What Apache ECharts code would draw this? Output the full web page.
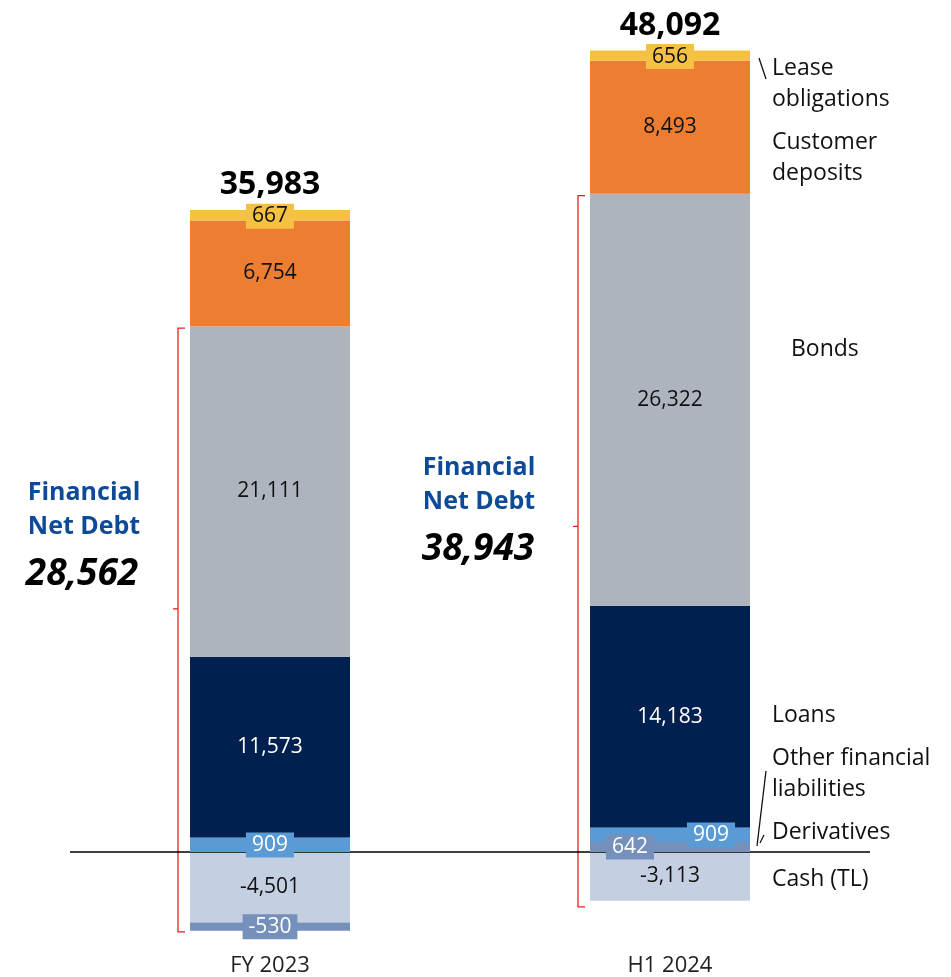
<!DOCTYPE html>
<html>
<head>
<meta charset="utf-8">
<script src="https://cdn.jsdelivr.net/npm/echarts@6/dist/echarts.min.js"></script>
<style>
html, body { margin: 0; padding: 0; background: #fff; }
#chart { width: 951px; height: 977px; }
</style>
</head>
<body>
<div id="chart"></div>
<script>
var periods = ['FY 2023', 'H1 2024'];
var cash = [-4501, -3113];
var otherFin = [-530, 642];
var derivatives = [909, 909];
var loans = [11573, 14183];
var bonds = [21111, 26322];
var deposits = [6754, 8493];
var leases = [667, 656];
var totals = [35983, 48092];
var netDebt = [28562, 38943];

var FONT = '"Open Sans", "DejaVu Sans", sans-serif';
function fmt(v) { return v.toLocaleString('en-US'); }

// label helpers
function plainLabel(color) {
    return { show: true, position: 'inside', color: color, fontFamily: FONT, fontSize: 21,
             formatter: function (p) { return fmt(p.value); } };
}
function boxLabel(color, bg, offsets) {
    return function (v, i) {
        return {
            value: v,
            label: { show: true, position: 'inside', color: color, backgroundColor: bg,
                     padding: [3, 6, 1, 6], fontFamily: FONT, fontSize: 21,
                     offset: offsets[i], formatter: fmt(v) }
        };
    };
}

var barW = 160;
function bar(name, data, color, label, z) {
    return { name: name, type: 'bar', stack: 'debt', barWidth: barW, data: data, z: z || 2,
             itemStyle: { color: color }, label: label, emphasis: { disabled: true } };
}

// positive stack top per period, for the total labels
var posTop = periods.map(function (_, i) {
    return [cash, otherFin, derivatives, loans, bonds, deposits, leases]
        .reduce(function (s, arr) { return s + Math.max(arr[i], 0); }, 0);
});

var series = [
    bar('Cash (TL)', cash, '#c5cfe2', plainLabel('#111')),
    bar('Other financial liabilities', otherFin.map(boxLabel('#fff', '#7590bb', [[0, 0], [-40, 0]])), '#7590bb', null, 4),
    bar('Derivatives', derivatives.map(boxLabel('#fff', '#5b9bd5', [[0, 0], [41, 0]])), '#5b9bd5', null, 4),
    bar('Loans', loans, '#002150', plainLabel('#fff')),
    bar('Bonds', bonds, '#adb4be', plainLabel('#111')),
    bar('Customer deposits', deposits, '#ed7d31', plainLabel('#111')),
    bar('Lease obligations', leases.map(boxLabel('#111', '#f4c142', [[0, 1], [0, 1]])), '#f4c142', null),
    {
        name: 'total', type: 'scatter', symbolSize: 0, data: posTop,
        itemStyle: { opacity: 1 },
        label: { show: true, position: 'top', distance: 9, color: '#000', fontFamily: FONT,
                 fontSize: 32, fontWeight: 'bold',
                 formatter: function (p) { return fmt(totals[p.dataIndex]); } }
    }
];
series[0].markLine = {
    silent: true, symbol: 'none', z: 3, label: { show: false },
    lineStyle: { color: '#000', width: 1.5, type: 'solid' },
    data: [{ yAxis: 0 }]
};

var chart = echarts.init(document.getElementById('chart'));
chart.setOption({
    animation: false,
    grid: { left: 70, right: 81, top: 38, bottom: 31 },
    xAxis: {
        type: 'category', data: periods,
        axisLine: { show: false, onZero: false }, axisTick: { show: false },
        axisLabel: { margin: 9, color: '#222', fontFamily: FONT, fontSize: 22 }
    },
    yAxis: { type: 'value', min: -6000, max: 52000, show: false, splitLine: { show: false } },
    series: series
});

// side texts
function txt(x, y, s, extra) {
    var style = { text: s, font: '23px ' + FONT, fill: '#111', verticalAlign: 'middle' };
    for (var k in extra) style[k] = extra[k];
    return { type: 'text', x: x, y: y, style: style, silent: true };
}
function line(x1, y1, x2, y2, color, w) {
    return { type: 'line', shape: { x1: x1, y1: y1, x2: x2, y2: y2 },
             style: { stroke: color || '#111', lineWidth: w || 1.3 }, silent: true };
}

var graphics = [
    txt(772, 68, 'Lease'), txt(772, 99, 'obligations'),
    txt(772, 142, 'Customer'), txt(772, 173, 'deposits'),
    txt(791, 349, 'Bonds'),
    txt(772, 715, 'Loans'),
    txt(772, 758, 'Other financial'), txt(772, 789, 'liabilities'),
    txt(772, 832, 'Derivatives'),
    txt(772, 879, 'Cash (TL)'),
    line(759, 58, 766, 79),
    line(766, 771, 757, 846),
    line(764, 835, 760, 843)
];

// financial net debt captions
var ndPos = [[84, 493, 82, 574], [479, 468, 478, 549]];
ndPos.forEach(function (p, i) {
    graphics.push(txt(p[0], p[1], 'Financial', { align: 'center', fill: '#0d4a97', font: 'bold 25px ' + FONT }));
    graphics.push(txt(p[0], p[1] + 34, 'Net Debt', { align: 'center', fill: '#0d4a97', font: 'bold 25px ' + FONT }));
    graphics.push(txt(p[2], p[3], fmt(netDebt[i]), { align: 'center', fill: '#000', font: 'italic bold 37px ' + FONT }));
});

// red brackets spanning financial net debt (bonds top to bottom of negatives)
periods.forEach(function (_, i) {
    var top = Math.max(otherFin[i], 0) + derivatives[i] + loans[i] + bonds[i];
    var bottom = cash[i] + Math.min(otherFin[i], 0);
    var pTop = chart.convertToPixel({ xAxisIndex: 0, yAxisIndex: 0 }, [i, top]);
    var pBot = chart.convertToPixel({ xAxisIndex: 0, yAxisIndex: 0 }, [i, bottom]);
    var x = pTop[0] - barW / 2 - 12;
    var y1 = pTop[1] + 2, y2 = pBot[1] + (i === 1 ? 6 : 1);
    var ym = y1 + (y2 - y1) * 0.465;
    graphics.push({
        type: 'polyline', silent: true,
        shape: { points: [[x + 7, y1], [x, y1], [x, y2], [x + 7, y2]] },
        style: { stroke: '#ee1c1c', lineWidth: 1.3, fill: null }
    });
    graphics.push(line(x - 5, ym, x, ym, '#ee1c1c', 1.3));
});

chart.setOption({ graphic: graphics });
</script>
</body>
</html>
